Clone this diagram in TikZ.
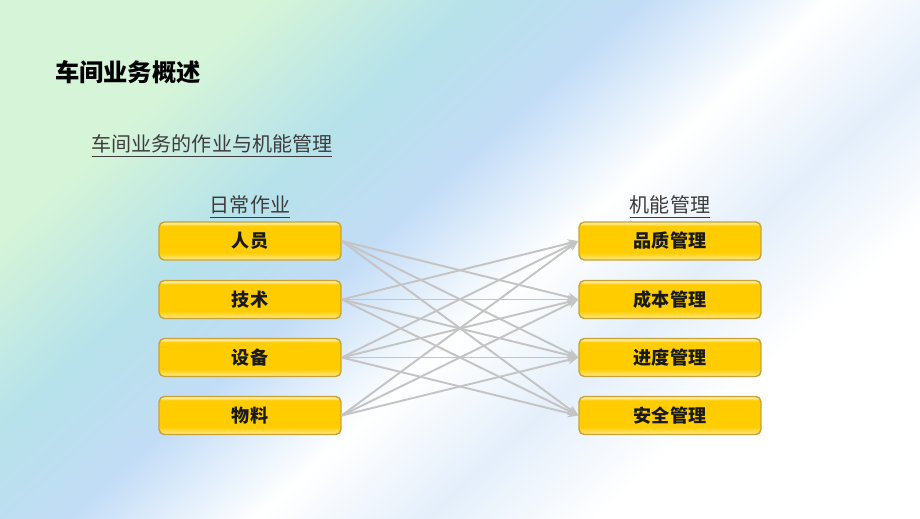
\documentclass[tikz,border=0pt]{standalone}
\usepackage{fontspec}
\setmainfont{Noto Sans CJK SC}
\usetikzlibrary{arrows.meta}

\definecolor{boxgold}{HTML}{FFCC00}
\definecolor{boxlite}{HTML}{FFE98C}
\definecolor{boxedge}{HTML}{C6A338}
\definecolor{linkgray}{HTML}{C4C4C4}
\definecolor{bgmint}{HTML}{D6F5D8}
\definecolor{bgaqua}{HTML}{B6E2EA}
\definecolor{bgsky}{HTML}{C2DCF6}
\definecolor{bgpale}{HTML}{E4EFFB}
\definecolor{inkdark}{HTML}{1A1A1A}

\pgfdeclareverticalshading{boxgloss}{100bp}{color(0bp)=(boxlite); color(25bp)=(boxlite);
  color(35bp)=(boxgold); color(70bp)=(boxgold); color(73bp)=(boxlite); color(75bp)=(boxlite);
  color(100bp)=(boxlite)}
\pgfdeclarehorizontalshading{bgwash}{100bp}{color(0bp)=(bgmint); color(27bp)=(bgmint);
  color(37bp)=(bgaqua); color(45bp)=(bgsky); color(54bp)=(white); color(62bp)=(bgpale);
  color(70bp)=(white); color(100bp)=(white)}

\tikzset{
  title/.style={font=\bfseries\fontsize{13.8}{16}\selectfont, text=black},
  subtitle/.style={font=\fontsize{11.4}{14}\selectfont, text=inkdark!85},
  head/.style={font=\fontsize{11.4}{14}\selectfont, text=inkdark!85},
  bar/.style={shading=boxgloss, draw=boxedge, line width=0.8pt, rounded corners=3pt,
    minimum width=3.64cm, minimum height=0.76cm, inner sep=0pt,
    font=\bfseries\fontsize{10.3}{12}\selectfont, text=inkdark},
  link/.style={draw=linkgray, line width=1.1pt, -{Stealth[length=6pt,width=5pt]}}
}

\begin{document}
\begin{tikzpicture}[x=0.02cm,y=-0.02cm]
    \useasboundingbox (0,0) rectangle (920,518);
    \shade[shading=bgwash, shading angle=-48] (0,0) rectangle (920,518);

    \node[title] (ttl) at (128,72) {车间业务概述};
    \node[subtitle] (sub) at (212,146) {\underline{车间业务的作业与机能管理}};
    \node[head] (hl) at (250,207) {\underline{日常作业}};
    \node[head] (hr) at (670,207) {\underline{机能管理}};

    % daily work
    \node[bar] (l1) at (250,241) {人员};
    \node[bar] (l2) at (250,299.5) {技术};
    \node[bar] (l3) at (250,357.5) {设备};
    \node[bar] (l4) at (250,415.5) {物料};
    % functional management
    \node[bar] (r1) at (670,241) {品质管理};
    \node[bar] (r2) at (670,299.5) {成本管理};
    \node[bar] (r3) at (670,357.5) {进度管理};
    \node[bar] (r4) at (670,415.5) {安全管理};

    \draw[link] (l1.east) -- (r2.west);
    \draw[link] (l1.east) -- (r3.west);
    \draw[link] (l1.east) -- (r4.west);
    \draw[link] (l2.east) -- (r1.west);
    \draw[link] (l2.east) -- (r2.west);
    \draw[link] (l2.east) -- (r3.west);
    \draw[link] (l2.east) -- (r4.west);
    \draw[link] (l3.east) -- (r1.west);
    \draw[link] (l3.east) -- (r2.west);
    \draw[link] (l3.east) -- (r3.west);
    \draw[link] (l3.east) -- (r4.west);
    \draw[link] (l4.east) -- (r1.west);
    \draw[link] (l4.east) -- (r2.west);
    \draw[link] (l4.east) -- (r3.west);
\end{tikzpicture}
\end{document}
